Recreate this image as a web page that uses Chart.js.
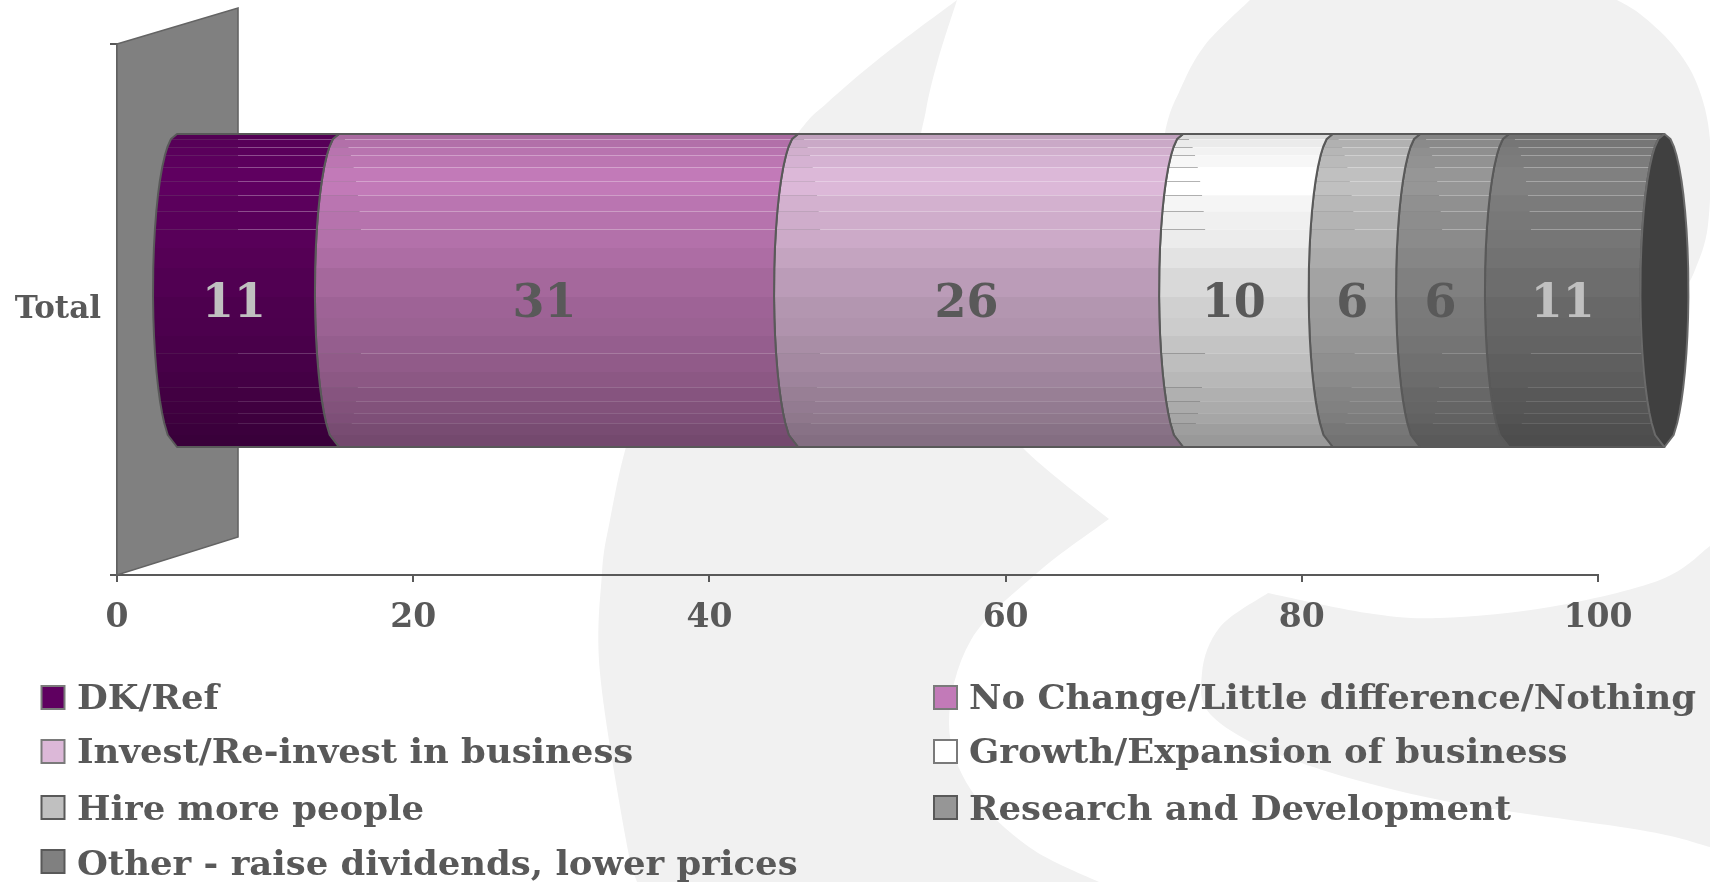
<!DOCTYPE html>
<html>
<head>
<meta charset="utf-8">
<style>html,body{margin:0;padding:0;background:#fff}canvas{display:block}</style>
<script src="https://cdn.jsdelivr.net/npm/chart.js@4"></script>
</head>
<body>
<canvas id="c" width="1710" height="882"></canvas>
<script>
const categories = ['Total'];
const seriesNames = ['DK/Ref','No Change/Little difference/Nothing','Invest/Re-invest in business','Growth/Expansion of business','Hire more people','Research and Development','Other - raise dividends, lower prices'];
const seriesValues = [11, 31, 26, 10.1, 5.9, 6, 10.5];
const seriesColors = ['#5f0060','#c27ab8','#dcb8d8','#ffffff','#c0c0c0','#969696','#808080'];
const labelColors = ['#c0c0c0','#595959','#595959','#595959','#595959','#595959','#c0c0c0'];
const xTicks = [0,20,40,60,80,100];

const TEXT = '#595959';
const SHIFT_X = 59, SHIFT_Y = -19, CAP_A = 24;
// Vertical facets of the cylinder: y boundary (fraction of height) and brightness of the band below it
const bandY = [134,139,147,155,167,181,195,211,229,248,268,297,318,336,353,372,387,401,413,423,435,447].map(y=>(y-134)/313);
const bandK = [.87,.92,.95,.97,1,1,.96,.94,.925,.89,.85,.815,.80,.77,.745,.72,.69,.67,.65,.62,.60];
const seamY = [[139,.3],[147,.3],[155,.3],[167,.3],[181,.3],[195,.3],[211,.3],[229,.3],[353,.2],[387,.14],[401,.14],[413,.12],[423,.12]].map(([y,a])=>[(y-134)/313,a]);

function shade(hex,k){
  const n=parseInt(hex.slice(1),16);
  return `rgb(${Math.round((n>>16&255)*k)},${Math.round((n>>8&255)*k)},${Math.round((n&255)*k)})`;
}
function arc(f){const d=2*f-1;return Math.sqrt(Math.max(0,1-d*d));}

// Catmull-Rom curve through the given points, continuing the current path
function spline(ctx,p){
  ctx.lineTo(p[0][0],p[0][1]);
  for(let i=0;i<p.length-1;i++){
    const a=p[Math.max(0,i-1)],b=p[i],c=p[i+1],d=p[Math.min(p.length-1,i+2)];
    ctx.bezierCurveTo(b[0]+(c[0]-a[0])/6,b[1]+(c[1]-a[1])/6,c[0]-(d[0]-b[0])/6,c[1]-(d[1]-b[1])/6,c[0],c[1]);
  }
}
const backdrop = {
  id:'backdrop',
  beforeDraw(chart){
    const ctx=chart.ctx;ctx.save();ctx.fillStyle='#f1f1f1';
    ctx.beginPath();
    ctx.moveTo(957,0);
    spline(ctx,[[957,0],[881,57],[827,103],[798,133],[720,240],[650,380],[626,447],[610,520],[602,573],[600,673],[626,840],[637,882]]);
    ctx.lineTo(1099,882);
    spline(ctx,[[1099,882],[1029,847],[971,790],[949,723],[971,640],[1037,573],[1109,519]]);
    spline(ctx,[[1109,519],[1022,447],[975,380],[930,280],[918,170],[926,110],[938,60],[957,0]]);
    ctx.closePath();ctx.fill();
    ctx.beginPath();
    ctx.moveTo(1250,0);
    spline(ctx,[[1250,0],[1205,45],[1180,90],[1165,133],[1155,220],[1165,440]]);
    ctx.lineTo(1650,440);
    spline(ctx,[[1683,292],[1695,270],[1708,225],[1710,140],[1697,84],[1673,45],[1640,14],[1617,0]]);
    ctx.closePath();ctx.fill();
    ctx.beginPath();
    ctx.moveTo(1268,593);
    spline(ctx,[[1268,593],[1367,613],[1440,618],[1550,607],[1660,580],[1710,546]]);
    ctx.lineTo(1710,847);
    spline(ctx,[[1710,847],[1640,830],[1440,800],[1293,760],[1213,717],[1202,673],[1220,627],[1268,593]]);
    ctx.closePath();ctx.fill();
    ctx.restore();
  }
};

const cylinder = {
  id:'cylinder',
  beforeDatasetsDraw(chart){
    const {ctx,chartArea:a}=chart;const x=chart.scales.x.getPixelForValue(0);
    ctx.save();ctx.beginPath();
    ctx.moveTo(x,a.top);ctx.lineTo(x+121,a.top-36);ctx.lineTo(x+121,a.bottom-38);ctx.lineTo(x,a.bottom);ctx.closePath();
    ctx.fillStyle='#808080';ctx.fill();ctx.strokeStyle='#646464';ctx.lineWidth=1.6;ctx.stroke();
    ctx.restore();
  },
  beforeDatasetDraw(chart,args){
    const ctx=chart.ctx, el=args.meta.data[0], i=args.index;
    const c0=el.base+SHIFT_X, c1=el.x+SHIFT_X, h=el.height, top=el.y+SHIFT_Y-h/2;
    const wallEdge=chart.scales.x.getPixelForValue(0)+121;
    const base=seriesColors[i];
    const left=(c,f)=>c-CAP_A*arc(f);
    const right=(c,f)=>c+CAP_A*arc(f);
    const outline=()=>{
      ctx.beginPath();
      ctx.moveTo(c0,top);ctx.lineTo(c1,top);
      bandY.forEach(f=>ctx.lineTo(left(c1,f),top+f*h));
      ctx.lineTo(c0,top+h);
      [...bandY].reverse().forEach(f=>ctx.lineTo(left(c0,f),top+f*h));
      ctx.closePath();
    };
    ctx.save();
    outline();ctx.clip();
    bandK.forEach((k,b)=>{
      ctx.fillStyle=shade(base,k);
      const y0=top+bandY[b]*h,y1=top+bandY[b+1]*h;
      ctx.fillRect(c0-CAP_A-2,y0,c1-c0+CAP_A+4,y1-y0+.6);
    });
    seamY.forEach(([f,al])=>{
      const y=Math.round(top+f*h)+.5;
      const split=i===0?wallEdge:right(c0,f);
      ctx.lineWidth=1;
      ctx.strokeStyle=`rgba(128,128,128,${i===3?.6:al*.7})`;
      ctx.beginPath();ctx.moveTo(left(c0,f),y);ctx.lineTo(split,y);ctx.stroke();
      ctx.strokeStyle=`rgba(255,255,255,${al})`;
      ctx.beginPath();ctx.moveTo(split,y);ctx.lineTo(left(c1,f),y);ctx.stroke();
    });
    ctx.restore();
    ctx.save();
    outline();ctx.strokeStyle=TEXT;ctx.lineWidth=2;ctx.lineJoin='round';ctx.stroke();
    if(i===seriesValues.length-1){
      ctx.beginPath();
      bandY.forEach((f,n)=>{const X=left(c1,f),Y=top+f*h;n?ctx.lineTo(X,Y):ctx.moveTo(X,Y);});
      [...bandY].reverse().forEach(f=>ctx.lineTo(right(c1,f),top+f*h));
      ctx.closePath();ctx.fillStyle='#404040';ctx.fill();ctx.strokeStyle='#6a6a6a';ctx.lineWidth=2;ctx.stroke();
    }
    ctx.restore();
    return false;
  },
  afterDatasetsDraw(chart){
    const ctx=chart.ctx;ctx.save();
    ctx.font='bold 46px "DejaVu Serif"';ctx.textAlign='center';ctx.textBaseline='alphabetic';
    chart.data.datasets.forEach((d,i)=>{
      const el=chart.getDatasetMeta(i).data[0];
      ctx.fillStyle=labelColors[i];
      const cx=(el.base+el.x)/2+SHIFT_X-CAP_A;
      ctx.fillText(String(Math.round(d.data[0])),cx,el.y+SHIFT_Y+26);
    });
    ctx.restore();
  },
  afterDraw(chart){
    const ctx=chart.ctx;ctx.save();
    const rows=[[686,709],[740,763],[796,820],[850,875]], cols=[[41.5,77],[934,969]];
    ctx.font='bold 33px "DejaVu Serif"';ctx.textBaseline='alphabetic';
    const stretch=727/ctx.measureText(seriesNames[1]).width;
    seriesNames.forEach((name,i)=>{
      const [sy,by]=rows[Math.floor(i/2)],[sx,tx]=cols[i%2];
      ctx.fillStyle=seriesColors[i];ctx.strokeStyle=i>3?TEXT:'#7a7a7a';ctx.lineWidth=2;
      ctx.fillRect(sx,sy,23,23);ctx.strokeRect(sx,sy,23,23);
      ctx.fillStyle=TEXT;
      ctx.save();ctx.translate(tx,by);ctx.scale(stretch,1);ctx.fillText(name,0,0);ctx.restore();
    });
    ctx.restore();
  }
};

new Chart(document.getElementById('c'),{
  type:'bar',
  data:{
    labels:categories,
    datasets:seriesNames.map((n,i)=>({label:n,data:[seriesValues[i]],backgroundColor:seriesColors[i],barThickness:313}))
  },
  plugins:[backdrop,cylinder],
  options:{
    indexAxis:'y',responsive:false,animation:false,
    layout:{padding:{left:0,top:44,right:112,bottom:0}},
    plugins:{legend:{display:false},tooltip:{enabled:false}},
    scales:{
      x:{type:'linear',stacked:true,min:0,max:100,
        afterBuildTicks(s){s.ticks=xTicks.map(v=>({value:v}));},
        afterFit(s){s.height=307;},
        grid:{drawOnChartArea:false,drawTicks:true,tickLength:7,color:TEXT,lineWidth:2},
        border:{display:true,color:TEXT,width:2},
        ticks:{color:TEXT,font:{family:'"DejaVu Serif"',weight:'bold',size:33},padding:17,maxRotation:0,minRotation:0,autoSkip:false}},
      y:{type:'category',stacked:true,
        afterFit(s){s.width=117;},
        grid:{drawOnChartArea:false,drawTicks:true,tickLength:7,color:TEXT,lineWidth:2},
        border:{display:true,color:TEXT,width:2},
        ticks:{color:TEXT,font:{family:'"DejaVu Serif"',weight:'bold',size:31},padding:9}}
    }
  }
});
</script>
</body>
</html>
